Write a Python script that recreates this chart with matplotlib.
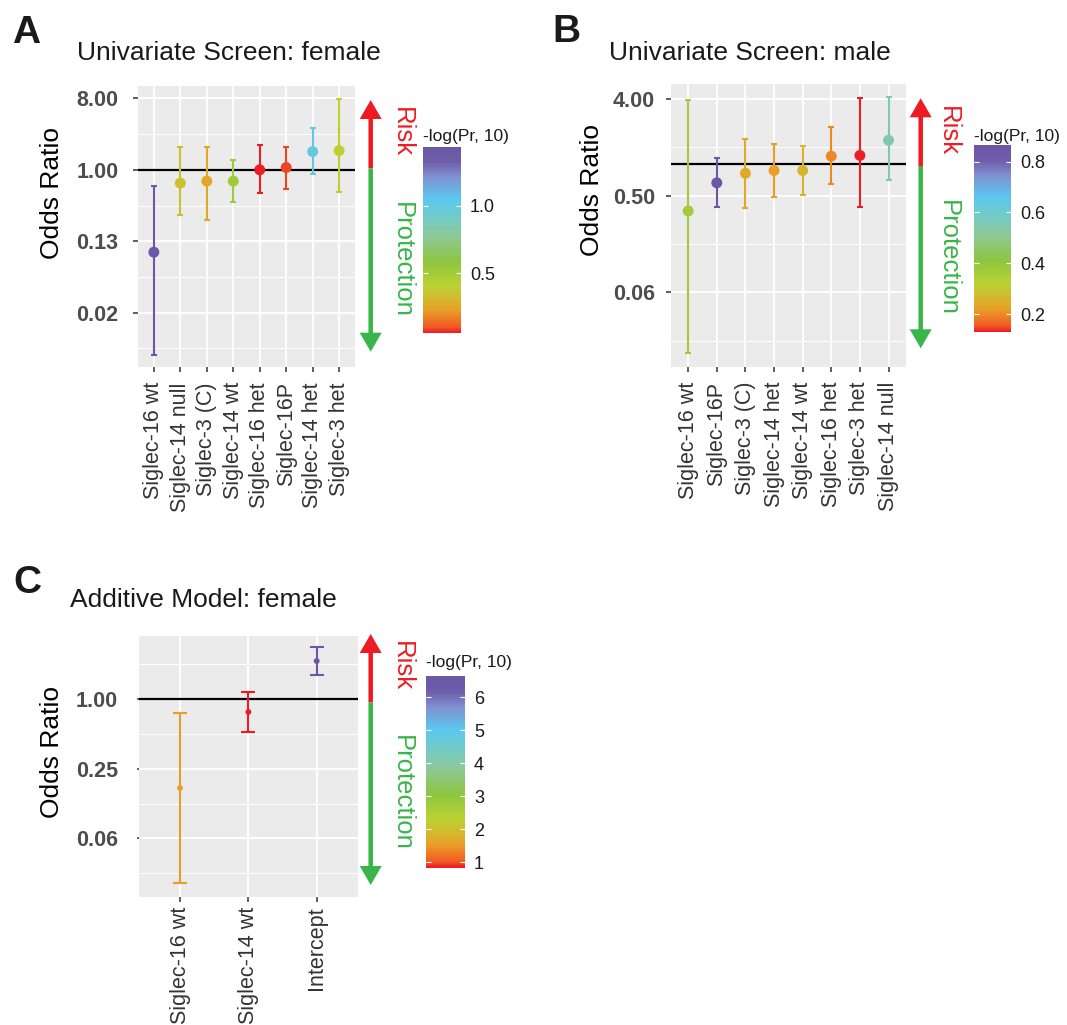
import matplotlib
matplotlib.use("Agg")
import matplotlib.pyplot as plt
import numpy as np
from matplotlib.colors import LinearSegmentedColormap, Normalize
from matplotlib.patches import FancyArrow
from matplotlib.ticker import NullFormatter

plt.rcParams['font.family'] = ['Liberation Sans', 'DejaVu Sans']

W, H = 1067, 1025
RED = '#ED1C24'
GREEN = '#39B54A'

# A: univariate screen, female
a_labels = ["Siglec-16 wt", "Siglec-14 null", "Siglec-3 (C)", "Siglec-14 wt",
            "Siglec-16 het", "Siglec-16P", "Siglec-14 het", "Siglec-3 het"]
a_or = [0.091, 0.68, 0.72, 0.72, 1.0, 1.07, 1.70, 1.75]
a_lo = [0.0046, 0.27, 0.23, 0.39, 0.51, 0.57, 0.89, 0.53]
a_hi = [0.63, 1.93, 1.93, 1.34, 2.07, 1.95, 3.4, 7.8]
a_nlp = [1.436, 0.34, 0.25, 0.52, 0.06, 0.09, 1.0, 0.39]

# B: univariate screen, male
b_labels = ["Siglec-16 wt", "Siglec-16P", "Siglec-3 (C)", "Siglec-14 het",
            "Siglec-14 wt", "Siglec-16 het", "Siglec-3 het", "Siglec-14 null"]
b_or = [0.36, 0.66, 0.81, 0.86, 0.86, 1.17, 1.19, 1.65]
b_lo = [0.017, 0.39, 0.38, 0.49, 0.51, 0.64, 0.39, 0.70]
b_hi = [3.9, 1.13, 1.7, 1.52, 1.46, 2.18, 4.07, 4.2]
b_nlp = [0.37, 0.865, 0.24, 0.22, 0.26, 0.20, 0.132, 0.55]

# C: additive model, female
c_labels = ["Siglec-16 wt", "Siglec-14 wt", "Intercept"]
c_or = [0.17, 0.77, 2.12]
c_lo = [0.026, 0.52, 1.59]
c_hi = [0.76, 1.15, 2.78]
c_nlp = [1.54, 0.84, 6.65]

cmap = LinearSegmentedColormap.from_list("pr", [
    (0.00, '#EC1D25'), (0.03, '#F15A24'), (0.12, '#E8A027'), (0.25, '#BCD233'),
    (0.38, '#8DC63F'), (0.52, '#8DC89A'), (0.62, '#72CBC6'), (0.72, '#5BC8F0'),
    (0.84, '#8090D0'), (0.92, '#6E5DAA'), (1.00, '#6A57A5')])

fig = plt.figure(figsize=(W / 100, H / 100), dpi=100)


def px_axes(x0, y0, x1, y1, **kw):
    return fig.add_axes([x0 / W, 1 - y1 / H, (x1 - x0) / W, (y1 - y0) / H], **kw)


def forest(box, cbox, labels, odds, lo, hi, nlp, ylim, yt, ytl, ymin, cticks,
           ms, cap, ytl_pad, ytick_len, xtl_pad):
    ax = px_axes(*box)
    n = len(labels)
    x = np.arange(1, n + 1)
    ax.set_facecolor('#EBEBEB')
    ax.set_yscale('log', base=2)
    ax.set_ylim(*ylim)
    ax.set_xlim(0.4, n + 0.6)
    ax.set_xticks(x, labels, rotation=90)
    ax.set_yticks(yt, ytl)
    ax.set_yticks(ymin, minor=True)
    ax.yaxis.set_minor_formatter(NullFormatter())
    ax.grid(which='major', color='white', lw=1.3)
    ax.grid(which='minor', axis='y', color='white', lw=0.65)
    ax.set_axisbelow(True)
    for s in ax.spines.values():
        s.set_visible(False)
    ax.tick_params(which='minor', length=0)
    ax.tick_params(axis='y', which='major', length=ytick_len, width=1.1, color='#333333',
                   pad=ytl_pad, labelsize=15.5, labelcolor='#4D4D4D')
    ax.tick_params(axis='x', which='major', length=3.6, width=1.1, color='#333333',
                   pad=xtl_pad, labelsize=15.5, labelcolor='#333333')
    for t in ax.get_yticklabels():
        t.set_fontweight('bold')
    ax.axhline(1, color='black', lw=1.6, zorder=2)
    norm = Normalize(min(nlp), max(nlp))
    for i in range(n):
        ax.errorbar(x[i], odds[i], yerr=[[odds[i] - lo[i]], [hi[i] - odds[i]]], fmt='none',
                    ecolor=cmap(norm(nlp[i])), elinewidth=1.5, capsize=cap, capthick=1.5,
                    zorder=3)
    sc = ax.scatter(x, odds, c=nlp, cmap=cmap, norm=norm, s=ms, zorder=4, linewidths=0)
    cax = px_axes(*cbox)
    cb = fig.colorbar(sc, cax=cax)
    cb.outline.set_visible(False)
    cb.set_ticks(cticks)
    cb.minorticks_off()
    cax.tick_params(which='major', direction='in', length=3.6, width=0.8, color='white',
                    left=True, right=True, labelleft=False, labelright=True,
                    labelsize=13, pad=6.5, labelcolor='#1A1A1A')
    return ax


forest((138, 86, 355, 367), (423.3, 146.7, 461, 332.7), a_labels, a_or, a_lo, a_hi, a_nlp,
       (2 ** -8.28, 2 ** 3.52), [2 ** -6, 2 ** -3, 1, 8], ["0.02", "0.13", "1.00", "8.00"],
       2.0 ** np.array([-7.5, -4.5, -1.5, 1.5]), [0.5, 1.0], 62, 2.5, 10.8, 3.4, 7.3)
forest((671, 84.3, 905.7, 366.7), (974, 145, 1011, 331.7), b_labels, b_or, b_lo, b_hi, b_nlp,
       (2 ** -6.31, 2 ** 2.46), [2 ** -4, 2 ** -1, 4], ["0.06", "0.50", "4.00"],
       2.0 ** np.array([-5.5, -2.5, 0.5]), [0.2, 0.4, 0.6, 0.8], 62, 2.5, 8.0, 3.6, 7.3)
forest((139, 636, 357.7, 896.7), (426, 676, 465, 867.7), c_labels, c_or, c_lo, c_hi, c_nlp,
       (2 ** -5.67, 2 ** 1.8), [2 ** -4, 2 ** -2, 1], ["0.06", "0.25", "1.00"],
       2.0 ** np.array([-5, -3, -1, 1]), [1, 2, 3, 4, 5, 6], 18, 5, 13.5, 1.5, 3.6)

# overlay in pixel coordinates for titles, labels and risk arrows
ov = fig.add_axes([0, 0, 1, 1], facecolor='none')
ov.set_xlim(0, W)
ov.set_ylim(H, 0)
ov.axis('off')

for letter, lx, ly in [("A", 11.7, 43), ("B", 552, 42), ("C", 13, 593)]:
    ov.text(lx, ly, letter, fontsize=28, fontweight='bold', color='#1A1A1A',
            ha='left', va='baseline')
for title, tx, ty in [("Univariate Screen: female", 76.7, 60.5),
                      ("Univariate Screen: male", 609.3, 60.5),
                      ("Additive Model: female", 70, 606.7)]:
    ov.text(tx, ty, title, fontsize=19, color='#1A1A1A', ha='left', va='baseline')
for yx, yy in [(51.7, 193.3), (591.7, 190), (51.7, 751.7)]:
    ov.text(yx, yy, "Odds Ratio", fontsize=19, rotation=90, ha='center', va='center',
            color='black')
for cx, cy in [(423.3, 140.5), (974, 140.5), (426, 667)]:
    ov.text(cx, cy, "-log(Pr, 10)", fontsize=12.5, ha='left', va='baseline', color='#1A1A1A')


def risk_arrow(x, top, mid, bottom, tx, risk_y, prot_y):
    ov.add_patch(FancyArrow(x, mid, 0, top - mid, width=4.5, head_width=22, head_length=19,
                            length_includes_head=True, color=RED, lw=0))
    ov.add_patch(FancyArrow(x, mid, 0, bottom - mid, width=4.5, head_width=22, head_length=19,
                            length_includes_head=True, color=GREEN, lw=0))
    ov.text(tx, risk_y, "Risk", rotation=-90, ha='center', va='center', color=RED,
            fontsize=18.5)
    ov.text(tx, prot_y, "Protection", rotation=-90, ha='center', va='center', color=GREEN,
            fontsize=18.5)


risk_arrow(370.7, 100, 168.3, 351.7, 401.7, 132.5, 260)
risk_arrow(920.7, 98.3, 166, 348.3, 947.5, 130.7, 257.5)
risk_arrow(370.7, 634, 702.3, 885, 401.7, 665.8, 793.3)

fig.savefig("out.png", dpi=100)
